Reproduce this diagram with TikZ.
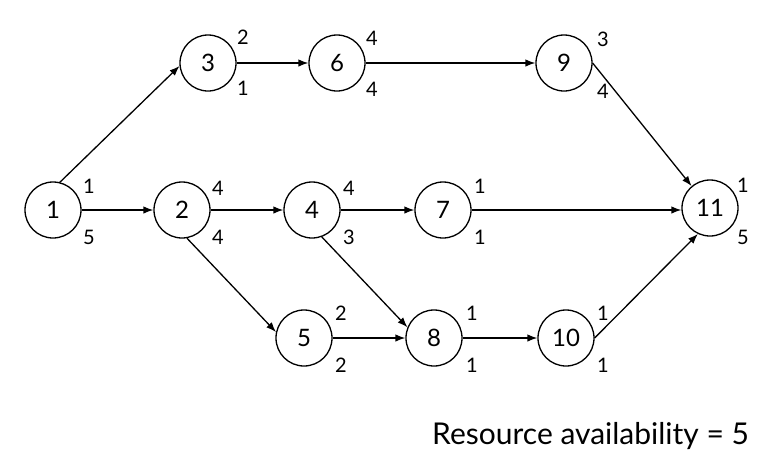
\documentclass[tikz,border=0pt]{standalone}
\usepackage{fontspec}
\setmainfont{Lato}
\usetikzlibrary{arrows.meta}
\begin{document}
\begin{tikzpicture}[x=1pt,y=-1pt,
  ev/.style={circle,draw,line width=1.3pt,minimum size=56pt,inner sep=0pt,font=\fontsize{24}{28}\selectfont},
  lab/.style={inner sep=0pt,font=\fontsize{20}{24}\selectfont},
  arr/.style={line width=1.3pt,-{Latex[length=10pt,width=7.5pt]}}]
\useasboundingbox (0,0) rectangle (777,459);
\node[ev] (n1) at (53,210) {1};
\node[ev] (n3) at (208,63) {3};
\node[ev] (n6) at (337,63) {6};
\node[ev] (n9) at (564,63) {9};
\node[ev] (n2) at (182,210) {2};
\node[ev] (n4) at (312,210) {4};
\node[ev] (n7) at (443,210) {7};
\node[ev] (n11) at (710,208) {11};
\node[ev] (n5) at (304,338) {5};
\node[ev] (n8) at (434,338) {8};
\node[ev] (n10) at (566,338) {10};
% labels
\node[lab] (l1a) at (89,186) {1};
\node[lab] (l1b) at (89,237) {5};
\node[lab] (l3a) at (243,37) {2};
\node[lab] (l3b) at (243,88) {1};
\node[lab] (l6a) at (372,38) {4};
\node[lab] (l6b) at (372,89) {4};
\node[lab] (l9a) at (603,39) {3};
\node[lab] (l9b) at (603,91) {4};
\node[lab] (l2a) at (218,188) {4};
\node[lab] (l2b) at (218,237) {4};
\node[lab] (l4a) at (349,188) {4};
\node[lab] (l4b) at (349,237) {3};
\node[lab] (l7a) at (480,186) {1};
\node[lab] (l7b) at (480,237) {1};
\node[lab] (l11a) at (743,185) {1};
\node[lab] (l11b) at (743,237) {5};
\node[lab] (l5a) at (341,313) {2};
\node[lab] (l5b) at (341,365) {2};
\node[lab] (l8a) at (472,313) {1};
\node[lab] (l8b) at (472,365) {1};
\node[lab] (l10a) at (603,313) {1};
\node[lab] (l10b) at (603,365) {1};
\node[inner sep=0pt,anchor=base west,font=\fontsize{30}{34}\selectfont] (ra) at (432,444) {Resource availability = 5};
% edges
\draw[arr] (n1.76) -- (n3.186);
\draw[arr] (n1) -- (n2);
\draw[arr] (n3) -- (n6);
\draw[arr] (n6) -- (n9);
\draw[arr] (n9.east) -- (n11.130);
\draw[arr] (n2) -- (n4);
\draw[arr] (n4) -- (n7);
\draw[arr] (n7.east) -- (n11.west |- n7.east);
\draw[arr] (n2.-80) -- (n5.168);
\draw[arr] (n4.-70) -- (n8.158);
\draw[arr] (n5) -- (n8);
\draw[arr] (n8) -- (n10);
\draw[arr] (n10.east) -- (n11.245);
\end{tikzpicture}
\end{document}
